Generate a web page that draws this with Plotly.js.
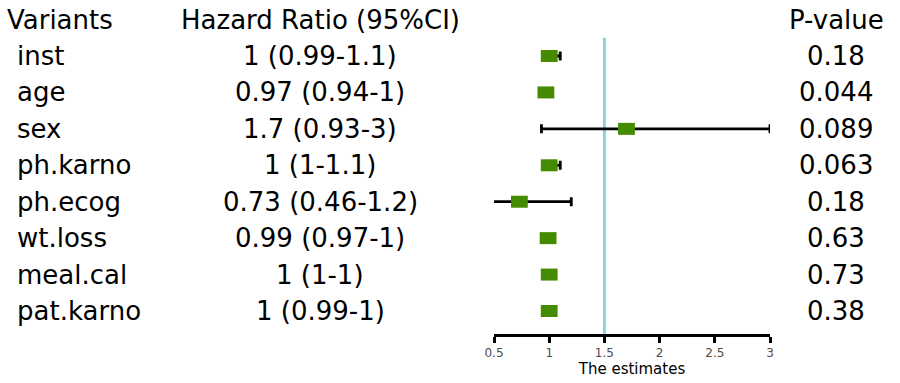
<!DOCTYPE html>
<html>
<head>
<meta charset="utf-8">
<script src="https://cdn.plot.ly/plotly-3.0.1.min.js"></script>
<style>html,body{margin:0;padding:0;background:#fff;}#chart{width:900px;height:383px;}</style>
</head>
<body>
<div id="chart"></div>
<script>
// ---- data ----
const variants = ['inst', 'age', 'sex', 'ph.karno', 'ph.ecog', 'wt.loss', 'meal.cal', 'pat.karno'];
const hrLabels = ['1 (0.99-1.1)', '0.97 (0.94-1)', '1.7 (0.93-3)', '1 (1-1.1)', '0.73 (0.46-1.2)', '0.99 (0.97-1)', '1 (1-1)', '1 (0.99-1)'];
const pValues = ['0.18', '0.044', '0.089', '0.063', '0.18', '0.63', '0.73', '0.38'];
const estimates = [1.0, 0.97, 1.7, 1.0, 0.73, 0.99, 1.0, 1.0];
const lower = [0.99, 0.94, 0.93, 1.0, 0.46, 0.97, 1.0, 0.99];
const upper = [1.1, 1.0, 3.0, 1.1, 1.2, 1.0, 1.0, 1.0];
const headers = ['Variants', 'Hazard Ratio (95%CI)', 'P-value'];
const refLine = 1.5;
const xTicks = [0.5, 1, 1.5, 2, 2.5, 3];
const xTitle = 'The estimates';

// ---- build ----
const W = 900;
const rowIdx = variants.map((_, i) => i);
const font = 'DejaVu Sans, sans-serif';
const fs = 26;

const trace = {
  type: 'scatter', mode: 'markers',
  x: estimates, y: rowIdx,
  error_x: {
    type: 'data', symmetric: false,
    array: upper.map((u, i) => u - estimates[i]),
    arrayminus: lower.map((l, i) => estimates[i] - l),
    color: '#000000', thickness: 2.8, width: 4.5
  },
  marker: { symbol: 'line-ew', size: 12, color: '#458B00', line: { color: '#458B00', width: 12 } },
  hoverinfo: 'skip', cliponaxis: false
};

const ann = [];
const colX = [{ x: 15, anchor: 'left' }, { x: 320, anchor: 'center' }, { x: 836, anchor: 'center' }];
headers.forEach((h, j) => {
  ann.push({ xref: 'paper', yref: 'y', x: (j === 0 ? 5 : colX[j].x) / W, y: -1, text: h, showarrow: false,
    xanchor: colX[j].anchor, yanchor: 'middle', font: { family: font, size: fs, color: '#000' } });
});
variants.forEach((v, i) => {
  [v, hrLabels[i], pValues[i]].forEach((t, j) => {
    ann.push({ xref: 'paper', yref: 'y', x: colX[j].x / W, y: i, text: t, showarrow: false,
      xanchor: colX[j].anchor, yanchor: 'middle', font: { family: font, size: fs, color: '#000' } });
  });
});

const layout = {
  width: 900, height: 383,
  margin: { l: 0, r: 0, t: 0, b: 49 },
  paper_bgcolor: '#fff', plot_bgcolor: '#fff',
  showlegend: false,
  xaxis: {
    domain: [494 / W, 770 / W], range: [0.5, 3], tickvals: xTicks, ticktext: xTicks.map(String),
    showgrid: false, zeroline: false, showline: true, linecolor: '#000', linewidth: 3,
    ticks: 'outside', ticklen: 6, tickwidth: 3, tickcolor: '#000',
    tickfont: { family: font, size: 12, color: '#4d4d4d' },
    title: { text: xTitle, font: { family: font, size: 15, color: '#000' }, standoff: 0 },
    automargin: false, fixedrange: true
  },
  yaxis: {
    range: [7.631, -1.537], showgrid: false, zeroline: false, showline: false,
    showticklabels: false, ticks: '', fixedrange: true
  },
  shapes: [{
    type: 'line', xref: 'x', yref: 'y', x0: refLine, x1: refLine, y0: -0.5, y1: 7.631,
    line: { color: '#8DD3DC', width: 3 }, layer: 'below'
  }],
  annotations: ann
};

Plotly.newPlot('chart', [trace], layout, { staticPlot: true, displayModeBar: false });
</script>
</body>
</html>
